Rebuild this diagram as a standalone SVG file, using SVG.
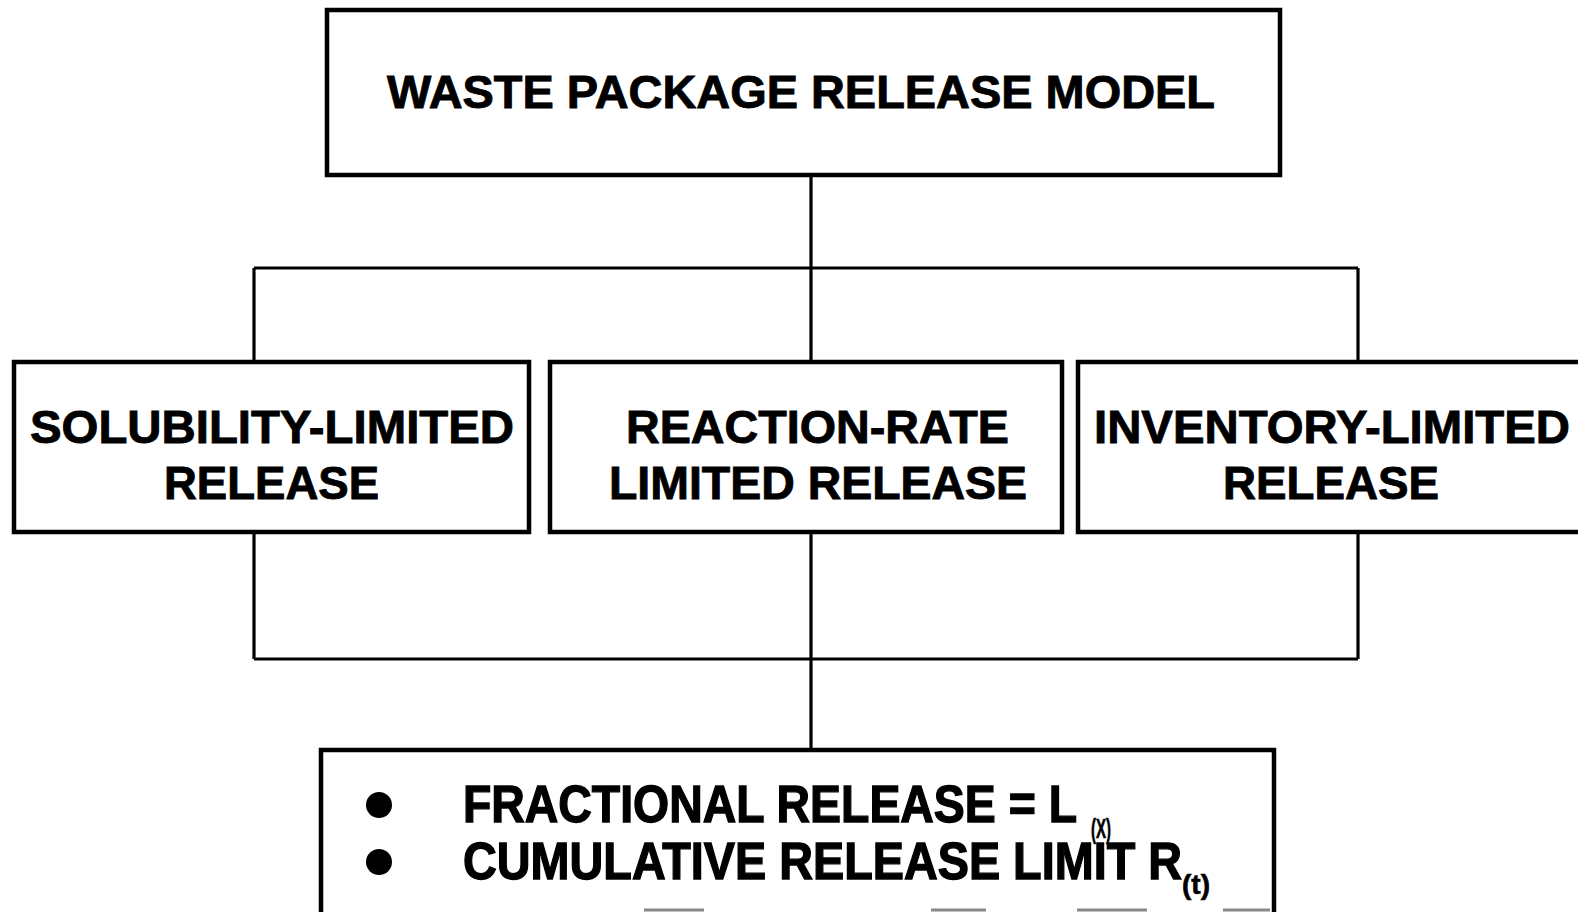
<svg xmlns="http://www.w3.org/2000/svg" width="1578" height="912" viewBox="0 0 1578 912">
  <style>
    .box { fill: #fff; stroke: #000; stroke-width: 4.5; }
    .wire { fill: none; stroke: #000; stroke-width: 3.2; }
    .lbl { font-family: "Liberation Sans", Arial, Helvetica, sans-serif; font-weight: bold; fill: #000; stroke: #000; stroke-width: 0.9; }
    .big { font-size: 47px; }
    .item { font-size: 51px; stroke-width: 1.3; }
    .sub { font-size: 27px; stroke-width: 0.6; }
    .ghost { stroke: #888; stroke-width: 3; }
  </style>
  <rect width="1578" height="912" fill="#fff"/>

  <!-- connectors -->
  <g id="connectors">
    <path class="wire" d="M811 175 V268 M254 268 H1358 M254 268 V362 M811 268 V362 M1358 268 V362"/>
    <path class="wire" d="M254 532 V659 M811 532 V659 M1358 532 V659 M254 659 H1358 M811 659 V750"/>
  </g>

  <!-- top node -->
  <g id="model">
    <rect class="box" x="327" y="10" width="953" height="165"/>
    <text class="lbl big" x="387" y="108" textLength="828" lengthAdjust="spacingAndGlyphs">WASTE PACKAGE RELEASE MODEL</text>
  </g>

  <!-- release mechanisms -->
  <g id="solubility">
    <rect class="box" x="14" y="362" width="515" height="170"/>
    <text class="lbl big" x="30" y="443" textLength="484" lengthAdjust="spacingAndGlyphs">SOLUBILITY-LIMITED</text>
    <text class="lbl big" x="164" y="499" textLength="215" lengthAdjust="spacingAndGlyphs">RELEASE</text>
  </g>
  <g id="reaction">
    <rect class="box" x="550" y="362" width="512" height="170"/>
    <text class="lbl big" x="626" y="443" textLength="383" lengthAdjust="spacingAndGlyphs">REACTION-RATE</text>
    <text class="lbl big" x="609" y="499" textLength="418" lengthAdjust="spacingAndGlyphs">LIMITED RELEASE</text>
  </g>
  <g id="inventory">
    <rect class="box" x="1078" y="362" width="520" height="170"/>
    <text class="lbl big" x="1094" y="443" textLength="476" lengthAdjust="spacingAndGlyphs">INVENTORY-LIMITED</text>
    <text class="lbl big" x="1223" y="499" textLength="216" lengthAdjust="spacingAndGlyphs">RELEASE</text>
  </g>

  <!-- result node, running off the lower edge -->
  <g id="result">
    <rect class="box" x="321" y="750" width="953" height="200"/>
    <circle cx="379" cy="805" r="13" fill="#000"/>
    <circle cx="379" cy="862" r="13" fill="#000"/>
    <text class="lbl item" x="463" y="822" textLength="614" lengthAdjust="spacingAndGlyphs">FRACTIONAL RELEASE = L</text>
    <text class="lbl sub" x="1091" y="838" textLength="20" lengthAdjust="spacingAndGlyphs">(X)</text>
    <text class="lbl item" x="463" y="879" textLength="719" lengthAdjust="spacingAndGlyphs">CUMULATIVE RELEASE LIMIT R</text>
    <text class="lbl sub" x="1182" y="894" textLength="28" lengthAdjust="spacingAndGlyphs">(t)</text>
    <path class="ghost" d="M644 910 H704 M931 910 H986 M1077 910 H1147 M1223 910 H1270"/>
  </g>
</svg>
